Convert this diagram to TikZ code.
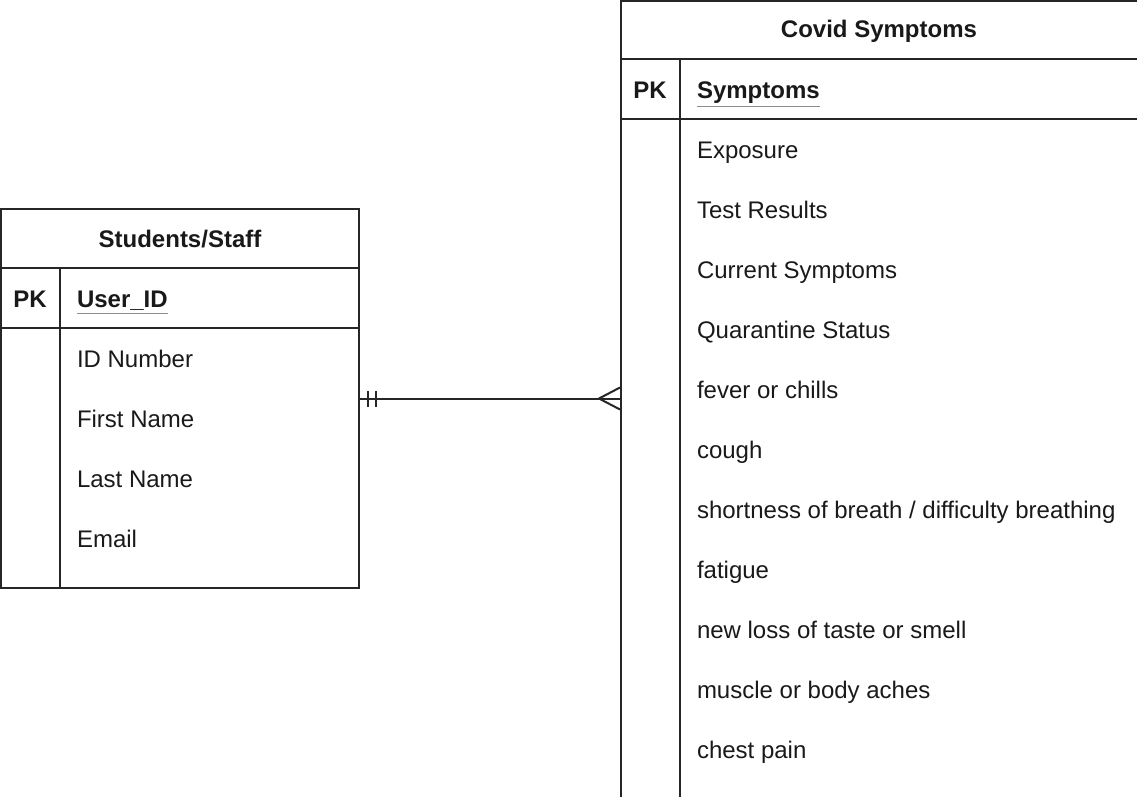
\documentclass[tikz,border=0pt]{standalone}
\usepackage{fontspec}
\setmainfont{Liberation Sans}
\usetikzlibrary{fit}
\newcommand{\keyul}[1]{{\color{black!45}\underline{\color{black!90}#1}}}
\begin{document}
\begin{tikzpicture}[x=0.5pt,y=-0.5pt,line width=1pt,draw=black!85,
  every node/.style={font=\fontsize{12}{14}\selectfont,text=black!90,inner sep=0},
  tbl/.style={draw,line width=1pt,inner sep=0},
  attr/.style={anchor=base west},
  hdr/.style={anchor=base,font=\fontsize{12}{14}\selectfont\bfseries},
  rel/.style={line width=1pt}]
\useasboundingbox (0,0) rectangle (1137,797);
\clip (0,0) rectangle (1137,797);
% ---- Students/Staff
\coordinate (ssTL) at (1,209);
\coordinate (ssBR) at (359,588);
\node[tbl,fit=(ssTL)(ssBR)] (ss) {};
\draw (ss.west |- 0,268) -- (ss.east |- 0,268);
\draw (ss.west |- 0,328) -- (ss.east |- 0,328);
\draw (60,268) -- (60,588);
\node[hdr] (ssh) at (180,247.5) {Students/Staff};
\node[hdr] (sspk) at (30,307.5) {PK};
\node[attr,font=\fontsize{12}{14}\selectfont\bfseries] (sskey) at (76,307.5) {\keyul{User\_ID}};
\node[attr] (ss1) at (76,367.5) {ID Number};
\node[attr] (ss2) at (76,427.5) {First Name};
\node[attr] (ss3) at (76,487.5) {Last Name};
\node[attr] (ss4) at (76,547.5) {Email};
% ---- Covid Symptoms
\coordinate (csTL) at (621,1);
\coordinate (csBR) at (1150,820);
\node[tbl,fit=(csTL)(csBR)] (cs) {};
\draw (cs.west |- 0,59) -- (cs.east |- 0,59);
\draw (cs.west |- 0,119) -- (cs.east |- 0,119);
\draw (680,59) -- (680,820);
\node[hdr] (csh) at (879,37.5) {Covid Symptoms};
\node[hdr] (cspk) at (650,98.5) {PK};
\node[attr,font=\fontsize{12}{14}\selectfont\bfseries] (cskey) at (696,98.5) {\keyul{Symptoms}};
\node[attr] (cs1) at (696,158.5) {Exposure};
\node[attr] (cs2) at (696,218.5) {Test Results};
\node[attr] (cs3) at (696,278.5) {Current Symptoms};
\node[attr] (cs4) at (696,338.5) {Quarantine Status};
\node[attr] (cs5) at (696,398.5) {fever or chills};
\node[attr] (cs6) at (696,458.5) {cough};
\node[attr] (cs7) at (696,518.5) {shortness of breath / difficulty breathing};
\node[attr] (cs8) at (696,578.5) {fatigue};
\node[attr] (cs9) at (696,638.5) {new loss of taste or smell};
\node[attr] (cs10) at (696,698.5) {muscle or body aches};
\node[attr] (cs11) at (696,758.5) {chest pain};
% ---- relationship
\coordinate (ce) at (ss.east -| cs.west);
\draw[rel] (ss.east) -- (ce);
\draw[rel] ([shift={(8,-8)}]ss.east) -- ([shift={(8,8)}]ss.east);
\draw[rel] ([shift={(16,-8)}]ss.east) -- ([shift={(16,8)}]ss.east);
\draw[rel] ([shift={(0,-11)}]ce) -- ([shift={(-21,0)}]ce) -- ([shift={(0,11)}]ce);
\end{tikzpicture}
\end{document}
